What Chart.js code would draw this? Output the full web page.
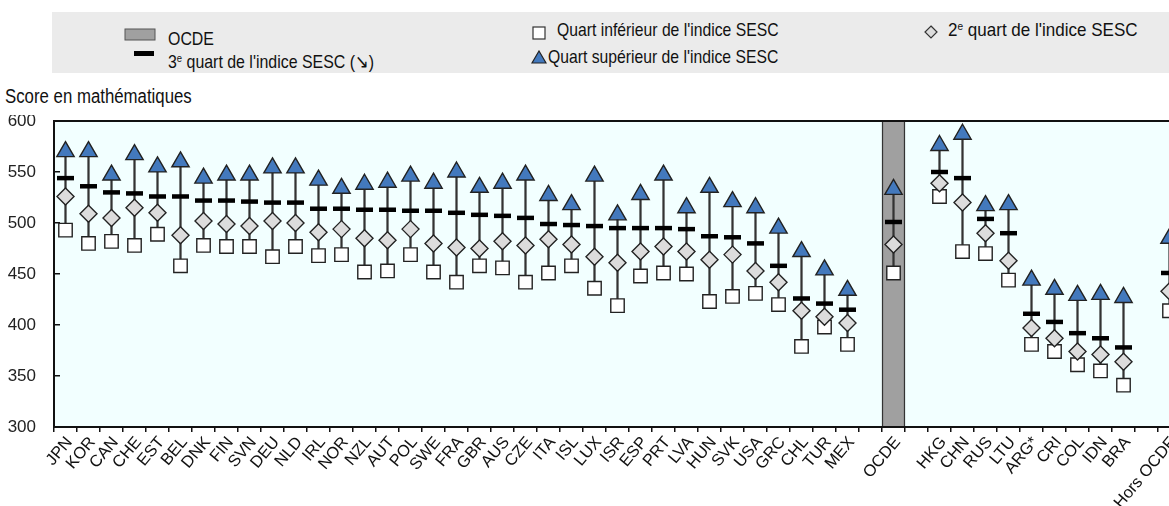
<!DOCTYPE html>
<html>
<head>
<meta charset="utf-8">
<title>Score en mathématiques selon le quart de l'indice SESC</title>
<script src="https://cdn.jsdelivr.net/npm/chart.js"></script>
<style>
	html, body { margin: 0; padding: 0; background: #fff; overflow: hidden; width: 1169px; height: 506px; }
	body { position: relative; font-family: "Liberation Sans", Arial, sans-serif; color: #111; }
	.legend { position: absolute; left: 52px; top: 12px; width: 1117px; height: 61px; background: #ebebeb; }
	.item { position: absolute; white-space: nowrap; line-height: 20px; }
	.item svg { position: absolute; }
	.txt { display: inline-block; font-size: 18.5px; transform: scaleX(0.86); transform-origin: 0 50%; }
	.txt sup { font-size: 11px; vertical-align: 6px; line-height: 0; }
	.ytitle { position: absolute; left: 5px; top: 85px; font-size: 20px; white-space: nowrap; transform: scaleX(0.84); transform-origin: 0 50%; }
	#chart { position: absolute; left: 0; top: 115px; }
</style>
</head>
<body>
	<div class="legend">
		<div class="item" style="left:116px; top:17px;"><svg width="32" height="13" style="left:-44px; top:-1px"><rect x="1" y="1" width="30" height="11" fill="#a0a0a0" stroke="#555" stroke-width="1"/></svg><span class="txt">OCDE</span></div>
		<div class="item" style="left:116px; top:40px;"><svg width="22" height="6" style="left:-34px; top:-1px"><rect x="0" y="0" width="20" height="5" fill="#000"/></svg><span class="txt">3<sup>e</sup> quart de l'indice SESC (↘)</span></div>
		<div class="item" style="left:505px; top:8px;"><svg width="15" height="15" style="left:-25px; top:6px"><rect x="1" y="1" width="12" height="12" fill="#fff" stroke="#333" stroke-width="1.2"/></svg><span class="txt" style="transform: scaleX(0.85)">Quart inférieur de l'indice SESC</span></div>
		<div class="item" style="left:496px; top:35px;"><svg width="16" height="14" style="left:-17px; top:3px"><polygon points="8,1 15,13 1,13" fill="#4379bd" stroke="#222" stroke-width="1.2"/></svg><span class="txt" style="transform: scaleX(0.85)">Quart supérieur de l'indice SESC</span></div>
		<div class="item" style="left:896px; top:8px;"><svg width="14" height="14" style="left:-24px; top:5px"><polygon points="7,1 13,7 7,13 1,7" fill="#dcdcdc" stroke="#333" stroke-width="1.2"/></svg><span class="txt" style="transform: scaleX(0.92)">2<sup>e</sup> quart de l'indice SESC</span></div>
	</div>
	<div class="ytitle">Score en mathématiques</div>
	<canvas id="chart" width="1181" height="391"></canvas>
	<script>
		// pays de l'OCDE, moyenne OCDE, pays partenaires, moyenne hors OCDE
		const oecdCodes = ["JPN", "KOR", "CAN", "CHE", "EST", "BEL", "DNK", "FIN", "SVN", "DEU", "NLD", "IRL", "NOR", "NZL", "AUT", "POL", "SWE", "FRA", "GBR", "AUS", "CZE", "ITA", "ISL", "LUX", "ISR", "ESP", "PRT", "LVA", "HUN", "SVK", "USA", "GRC", "CHL", "TUR", "MEX"];
		const partnerCodes = ["HKG", "CHN", "RUS", "LTU", "ARG*", "CRI", "COL", "IDN", "BRA"];

		// valeurs dans l'ordre : 35 pays OCDE, OCDE, 9 partenaires, Hors OCDE
		const quartSup = [570, 570, 547, 567, 555, 560, 544, 547, 547, 554, 554, 542, 534, 538, 540, 546, 539, 550, 535, 539, 547, 527, 518, 546, 508, 528, 547, 515, 535, 521, 515, 495, 472, 454, 434,
			533,
			576, 587, 517, 518, 444, 435, 429, 430, 427,
			485];
		const quart3 = [544, 536, 530, 529, 526, 526, 522, 522, 521, 520, 520, 514, 514, 513, 513, 512, 512, 510, 508, 507, 505, 499, 498, 497, 495, 495, 495, 494, 487, 486, 480, 458, 426, 421, 415,
			501,
			550, 544, 504, 490, 411, 403, 392, 387, 378,
			451];
		const quart2 = [526, 509, 505, 515, 510, 488, 502, 499, 497, 502, 500, 491, 494, 485, 483, 494, 480, 476, 475, 482, 478, 484, 479, 467, 461, 472, 477, 472, 464, 469, 453, 442, 414, 408, 402,
			479,
			539, 520, 490, 463, 397, 387, 374, 371, 364,
			433];
		const quartInf = [493, 480, 482, 478, 489, 458, 478, 477, 477, 467, 477, 468, 469, 452, 453, 469, 452, 442, 458, 456, 442, 451, 458, 436, 419, 448, 451, 450, 423, 428, 431, 420, 379, 398, 381,
			451,
			526, 472, 470, 444, 381, 374, 361, 355, 341,
			414];

		const yTicks = [300, 350, 400, 450, 500, 550, 600];

		// une case vide entre les groupes
		const labels = [...oecdCodes, "", "OCDE", "", ...partnerCodes, "", "Hors OCDE"];
		function withGaps(arr) {
			let a = arr.slice(0, 35), b = arr[35], c = arr.slice(36, 45), d = arr[45];
			return [...a, null, b, null, ...c, null, d];
		}
		const ranges = withGaps(quartInf.map((v, i) => [v, quartSup[i]]));
		const band = labels.map(l => l == "OCDE" ? [yTicks[0], yTicks[yTicks.length - 1]] : null);

		const SANS = '"Liberation Sans", Arial, sans-serif';

		const framePlugin = {
			id: 'frame',
			beforeDraw(chart) {
				let a = chart.chartArea, ctx = chart.ctx;
				ctx.save();
				ctx.fillStyle = '#f2ffff';
				ctx.fillRect(a.left, a.top, a.right - a.left, a.bottom - a.top);
				ctx.restore();
			},
			afterDatasetsDraw(chart) {
				let a = chart.chartArea, ctx = chart.ctx;
				ctx.save();
				ctx.strokeStyle = '#111';
				ctx.lineWidth = 2;
				ctx.strokeRect(a.left, a.top, a.right - a.left + 4, a.bottom - a.top);
				ctx.restore();
			}
		};

		const marker = (label, data, style, radius, fill, order, extra) => Object.assign({
			type: 'line', label, data: withGaps(data), showLine: false,
			pointStyle: style, pointRadius: radius, pointHoverRadius: radius,
			pointBackgroundColor: fill, pointBorderColor: '#222', pointBorderWidth: 1.4,
			order
		}, extra || {});

		new Chart(document.getElementById('chart'), {
			type: 'bar',
			data: {
				labels,
				datasets: [
					{ label: 'OCDE', data: band, backgroundColor: '#a0a0a0', borderColor: '#333', borderWidth: { left: 1.5, right: 1.5, top: 0, bottom: 0 }, borderSkipped: false, barPercentage: 1, categoryPercentage: 1, grouped: false, order: 10 },
					{ label: 'étendue', data: ranges, backgroundColor: '#333', barThickness: 1.6, grouped: false, order: 9 },
					marker("Quart inférieur de l'indice SESC", quartInf, 'rect', 9.5, '#ffffff', 8),
					marker("2e quart de l'indice SESC", quart2, 'rectRot', 8.5, '#dcdcdc', 7),
					marker("3e quart de l'indice SESC", quart3, 'line', 8.5, '#000', 6, { pointBorderColor: '#000', pointBorderWidth: 4.5 }),
					marker("Quart supérieur de l'indice SESC", quartSup, 'triangle', 10, '#4379bd', 5)
				]
			},
			options: {
				responsive: false,
				animation: false,
				layout: { autoPadding: false, padding: { top: 6, left: 0, right: 0, bottom: 0 } },
				plugins: { legend: { display: false }, tooltip: { enabled: false } },
				scales: {
					x: {
						offset: true,
						grid: { display: true, drawOnChartArea: false, drawTicks: true, tickLength: 5, color: '#111', lineWidth: 1.5, offset: true },
						border: { display: false },
						ticks: { color: '#111', font: { family: SANS, size: 16.5 }, minRotation: 50, maxRotation: 50, autoSkip: false, padding: 1, labelOffset: 4 },
						afterFit(s) { s.height = 79; s.paddingLeft = 0; s.paddingRight = 0; }
					},
					y: {
						min: 300, max: 600,
						afterBuildTicks(s) { s.ticks = yTicks.map(v => ({ value: v })); },
						grid: { display: true, drawOnChartArea: false, drawTicks: true, tickLength: -6, color: '#111', lineWidth: 1.5 },
						border: { display: false },
						ticks: { color: '#222', font: { family: SANS, size: 17 }, padding: 24 },
						afterFit(s) { s.width = 54; s.paddingTop = 0; s.paddingBottom = 0; }
					}
				}
			},
			plugins: [framePlugin]
		});
	</script>
</body>
</html>
